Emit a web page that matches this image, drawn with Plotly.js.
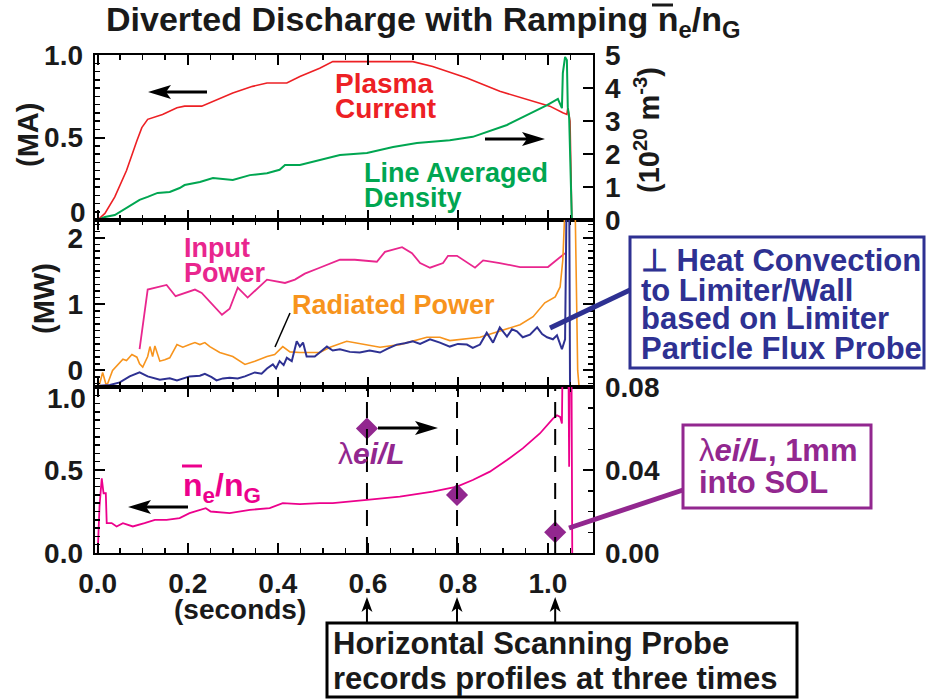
<!DOCTYPE html>
<html>
<head>
<meta charset="utf-8">
<script src="https://cdn.plot.ly/plotly-3.0.1.min.js"></script>
<style>html,body{margin:0;padding:0;background:#fff;}#chart{width:926px;height:700px;}</style>
</head>
<body>
<div id="chart"></div>
<script>
// ---------------- DATA ----------------
// Top panel: plasma current (MA) and line-averaged density (1e20 m^-3)
const ipTime = [0,0.016,0.038,0.064,0.087,0.098,0.111,0.144,0.176,0.193,0.231,0.264,0.300,0.344,0.376,0.420,0.449,0.493,0.522,0.598,0.700,0.744,0.820,0.893,0.967,1.004,1.033,1.042,1.044,1.049,1.053,1.100];
const ipMA   = [0,0.04,0.14,0.30,0.48,0.56,0.61,0.64,0.68,0.69,0.69,0.73,0.77,0.81,0.83,0.83,0.87,0.92,0.96,0.96,0.96,0.93,0.86,0.78,0.72,0.69,0.65,0.64,0.68,0.60,0.0,0.0];

const neTime = [0,0.016,0.038,0.064,0.093,0.111,0.133,0.160,0.182,0.193,0.227,0.256,0.300,0.338,0.376,0.404,0.416,0.449,0.493,0.538,0.598,0.656,0.709,0.782,0.833,0.864,0.909,0.953,0.998,1.022,1.031,1.033,1.038,1.042,1.044,1.047,1.053,1.100];
const neDens = [0,0.09,0.15,0.36,0.61,0.70,0.82,0.85,0.97,1.06,1.15,1.27,1.21,1.36,1.42,1.52,1.67,1.67,1.82,1.97,2.03,2.21,2.33,2.42,2.52,2.67,2.88,3.18,3.48,3.67,3.39,4.45,4.94,4.85,3.42,3.12,0.0,0.0];

// Middle panel (MW)
const pinTime = [0.093,0.111,0.153,0.173,0.216,0.231,0.276,0.293,0.311,0.333,0.376,0.416,0.438,0.460,0.493,0.538,0.571,0.620,0.638,0.676,0.698,0.716,0.738,0.767,0.778,0.798,0.838,0.856,0.893,0.938,1.000,1.038];
const pinMW   = [0.32,1.22,1.29,1.12,1.22,1.17,0.84,0.93,1.25,1.10,1.37,1.32,1.37,1.46,1.55,1.67,1.67,1.64,1.79,1.86,1.77,1.62,1.55,1.62,1.73,1.73,1.55,1.66,1.62,1.56,1.56,1.77];

const pradTime = [0.004,0.011,0.018,0.022,0.033,0.049,0.056,0.064,0.076,0.087,0.093,0.100,0.111,0.116,0.122,0.127,0.138,0.149,0.160,0.176,0.189,0.204,0.216,0.227,0.238,0.249,0.271,0.300,0.327,0.349,0.376,0.393,0.411,0.427,0.449,0.493,0.516,0.553,0.598,0.627,0.671,0.731,0.760,0.782,0.849,0.893,0.938,0.967,0.993,1.016,1.027,1.033,1.038,1.044,1.058,1.062,1.066,1.071];
const pradMW   = [-0.21,-0.03,-0.20,-0.20,0.00,0.13,0.17,0.15,0.24,0.20,0.10,0.05,0.21,0.36,0.21,0.37,0.14,0.16,0.19,0.39,0.35,0.39,0.42,0.39,0.42,0.36,0.27,0.21,0.09,0.14,0.21,0.24,0.36,0.28,0.27,0.27,0.35,0.44,0.39,0.35,0.39,0.50,0.50,0.45,0.50,0.59,0.69,0.81,1.02,1.11,1.26,1.67,2.60,3.50,3.50,2.00,0.00,-0.40];

const qconvTime = [0.004,0.027,0.049,0.071,0.093,0.111,0.138,0.160,0.176,0.189,0.204,0.227,0.238,0.253,0.264,0.278,0.293,0.311,0.327,0.349,0.364,0.376,0.389,0.396,0.404,0.413,0.420,0.431,0.442,0.449,0.456,0.464,0.482,0.493,0.509,0.522,0.538,0.560,0.582,0.604,0.627,0.644,0.664,0.682,0.700,0.716,0.738,0.760,0.782,0.800,0.820,0.833,0.849,0.864,0.878,0.893,0.909,0.920,0.931,0.944,0.960,0.976,0.987,0.998,1.011,1.020,1.031,1.038,1.042,1.047,1.049];
const qconvMW   = [-0.23,-0.22,-0.18,-0.09,-0.03,-0.09,-0.14,-0.12,-0.15,-0.12,-0.09,-0.08,-0.05,-0.10,-0.15,-0.12,-0.11,-0.12,-0.09,-0.03,-0.05,0.03,0.09,0.03,0.14,0.08,0.19,0.14,0.44,0.36,0.42,0.21,0.21,0.27,0.36,0.30,0.32,0.28,0.27,0.30,0.27,0.33,0.39,0.41,0.44,0.40,0.47,0.42,0.36,0.40,0.39,0.34,0.39,0.57,0.42,0.65,0.51,0.62,0.59,0.50,0.54,0.65,0.55,0.50,0.47,0.53,0.32,0.47,3.00,3.00,-0.30];

// Bottom panel: Greenwald fraction and lambda_ei/L
const fgTime = [0,0.004,0.009,0.013,0.018,0.020,0.031,0.042,0.056,0.078,0.104,0.127,0.153,0.182,0.204,0.240,0.251,0.293,0.338,0.382,0.411,0.449,0.493,0.522,0.598,0.671,0.744,0.798,0.833,0.871,0.909,0.944,0.982,1.011,1.020,1.027,1.031,1.033,1.045,1.047,1.049,1.052,1.054];
const fgVal  = [0,0.28,0.45,0.36,0.36,0.18,0.18,0.16,0.18,0.16,0.18,0.20,0.20,0.21,0.24,0.27,0.25,0.24,0.26,0.27,0.30,0.295,0.30,0.30,0.32,0.34,0.37,0.40,0.44,0.49,0.56,0.63,0.72,0.81,0.83,0.82,0.78,1.30,1.30,0.52,1.30,1.30,-0.05];

const probeTimes = [0.598, 0.798, 1.016];
const lambdaEiL  = [0.060, 0.028, 0.010];

const xTickVals = [0, 0.2, 0.4, 0.6, 0.8, 1.0];
const xTickText = ['0.0','0.2','0.4','0.6','0.8','1.0'];

// ---------------- STYLE ----------------
const FONT = 'Liberation Sans, Arial, Helvetica, sans-serif';
const INK = '#1a1a1a';
const C = {red:'#ED2024', green:'#00A651', pin:'#E9268E', orange:'#F7941D', navy:'#2E3192', pink:'#EC008C', purple:'#92278F'};
const L = 95, R = 593, T = 55, B = 553;
const W = R - L, H = B - T;
const P = (x, y) => ({x: (x - L) / W, y: (B - y) / H});

const TICKFONT = {family: FONT, size: 28, color: INK, weight: 'bold'};
const axBase = {
  showline: true, linecolor: '#000', linewidth: 2.4, ticks: 'inside', ticklen: 10, tickwidth: 2,
  tickcolor: '#000', zeroline: false, showgrid: false, fixedrange: true, tickfont: TICKFONT
};
const minorTicks = d => ({dtick: d, tick0: 0, ticks: 'inside', ticklen: 5, tickwidth: 1.5, tickcolor: '#000'});
const xCommon = Object.assign({}, axBase, {
  range: [-0.006, 1.1], tickvals: xTickVals, ticktext: xTickText, mirror: 'ticks', minor: minorTicks(0.05)
});

const traces = [
  {x: ipTime, y: ipMA, xaxis: 'x', yaxis: 'y', mode: 'lines', line: {color: C.red, width: 1.6}},
  {x: neTime, y: neDens, xaxis: 'x', yaxis: 'y4', mode: 'lines', line: {color: C.green, width: 2}},
  {x: pinTime, y: pinMW, xaxis: 'x2', yaxis: 'y2', mode: 'lines', line: {color: C.pin, width: 1.8}},
  {x: pradTime, y: pradMW, xaxis: 'x2', yaxis: 'y2', mode: 'lines', line: {color: C.orange, width: 1.6}},
  {x: qconvTime, y: qconvMW, xaxis: 'x2', yaxis: 'y2', mode: 'lines', line: {color: C.navy, width: 2}},
  {x: fgTime, y: fgVal, xaxis: 'x3', yaxis: 'y3', mode: 'lines', line: {color: C.pink, width: 1.8}},
  {x: probeTimes, y: lambdaEiL, xaxis: 'x3', yaxis: 'y5', mode: 'markers', cliponaxis: false,
   marker: {symbol: 'diamond', size: 17, color: C.purple}}
];

function txt(text, px, py, color, size, extra) {
  const p = P(px, py);
  return Object.assign({xref: 'paper', yref: 'paper', x: p.x, y: p.y, text: text, showarrow: false,
    xanchor: 'left', yanchor: 'middle', font: {family: FONT, size: size, color: color, weight: 'bold'}}, extra || {});
}
function seg(x0, y0, x1, y1, color, width, dash) {
  const a = P(x0, y0), b = P(x1, y1);
  return {type: 'line', xref: 'paper', yref: 'paper', x0: a.x, y0: a.y, x1: b.x, y1: b.y,
    line: {color: color, width: width, dash: dash || 'solid'}};
}
function box(x0, y0, x1, y1, color, width) {
  const a = P(x0, y0), b = P(x1, y1);
  return {type: 'rect', xref: 'paper', yref: 'paper', x0: a.x, y0: a.y, x1: b.x, y1: b.y,
    line: {color: color, width: width}, fillcolor: 'rgba(0,0,0,0)'};
}
// Arrow drawn as two pixel-sized shapes anchored at the head point.
// (dx, dy) = unit direction from head towards tail (screen pixels, y down); len = total length.
function arrowShapes(xref, xa, ya, dx, dy, len, hl, hw, notch, lw) {
  const ux = dx, uy = -dy;              // pixel sizemode has y pointing up
  const nx = -uy, ny = ux;
  const pt = (a, b) => (a * ux + b * nx).toFixed(2) + ',' + (a * uy + b * ny).toFixed(2);
  const common = {xref: xref, yref: 'paper', xsizemode: 'pixel', ysizemode: 'pixel', xanchor: xa, yanchor: ya};
  return [
    Object.assign({type: 'line', x0: (hl - notch) * ux, y0: (hl - notch) * uy, x1: len * ux, y1: len * uy,
      line: {color: '#000', width: lw}}, common),
    Object.assign({type: 'path', path: 'M' + pt(0, 0) + 'L' + pt(hl, hw) + 'L' + pt(hl - notch, 0) + 'L' + pt(hl, -hw) + 'Z',
      fillcolor: '#000', line: {width: 0}}, common)
  ];
}
function hArrow(hx, hy, tx) {
  const p = P(hx, hy);
  const d = tx > hx ? 1 : -1;
  return arrowShapes('paper', p.x, p.y, d, 0, Math.abs(tx - hx), 23, 7, 5, 3.2);
}

const annotations = [
  txt('Diverted Discharge with Ramping n<sub>e</sub>/n<sub>G</sub>', 423, 21, INK, 34, {xanchor: 'center'}),
  // tick labels that sit off their tick in the reference
  txt('0', 88, 212, INK, 28, {xanchor: 'right'}),
  txt('1.0', 88, 399, INK, 28, {xanchor: 'right'}),
  // axis titles
  txt('(MA)', 28, 135, INK, 29, {xanchor: 'center', textangle: -90}),
  txt('(MW)', 44, 299, INK, 29, {xanchor: 'center', textangle: -90}),
  txt('(10<sup>20</sup> m<sup>-3</sup>)', 647, 130, INK, 29, {xanchor: 'center', textangle: -90}),
  txt('(seconds)', 240, 609, INK, 28, {xanchor: 'center'}),
  // series labels
  txt('Plasma', 333, 83, C.red, 28),
  txt('Current', 333, 108, C.red, 28),
  txt('Line Averaged', 362, 173, C.green, 27),
  txt('Density', 362, 198, C.green, 27),
  txt('Input', 182, 248, C.pin, 27),
  txt('Power', 182, 273, C.pin, 27),
  txt('Radiated Power', 290, 305, C.orange, 27),
  txt('\u22A5 Heat Convection', 639, 260, C.navy, 31),
  txt('to Limiter/Wall', 639, 290, C.navy, 31),
  txt('based on Limiter', 639, 319, C.navy, 31),
  txt('Particle Flux Probe', 639, 348, C.navy, 31),
  txt('<span style="font-weight:normal">\u03BB</span><i>ei/L</i>', 336, 453, C.purple, 30),
  txt('n<sub>e</sub>/n<sub>G</sub>', 181, 488, C.pink, 32),
  txt('<span style="font-weight:normal">\u03BB</span><i>ei/L</i>, 1mm', 697, 450, C.purple, 31),
  txt('into SOL', 697, 482, C.purple, 31),
  txt('Horizontal Scanning Probe', 331, 643, INK, 31),
  txt('records profiles at three times', 331, 678, INK, 31)
];

let shapes = [
  box(630, 237, 924, 368, C.navy, 3),
  seg(550, 328, 630, 290, C.navy, 5),
  box(683, 425, 871, 508, C.purple, 3),
  seg(569, 528, 683, 490, C.purple, 5),
  seg(275, 347, 290, 313, '#000', 1.5),
  box(327, 623, 797, 697, '#000', 3),
  seg(182, 466, 202, 466, C.pink, 3),
  seg(652, 5, 673, 5, INK, 3)
];
shapes = shapes.concat(hArrow(148, 92, 207), hArrow(545, 139, 485), hArrow(128, 507, 188), hArrow(438, 428, 378));
probeTimes.forEach(t => {
  shapes.push({type: 'line', xref: 'x3', yref: 'y3', x0: t, x1: t, y0: 0, y1: 1,
    line: {color: '#000', width: 2, dash: '16px,11px'}});
  shapes = shapes.concat(arrowShapes('x3', t, P(0, 597).y, 0, 1, 26, 15, 5.5, 4, 2));
});

const layout = {
  width: 926, height: 700, showlegend: false,
  paper_bgcolor: '#fff', plot_bgcolor: 'rgba(0,0,0,0)',
  margin: {l: L, r: 926 - R, t: T, b: 700 - B, pad: 0},
  font: {family: FONT, color: INK},
  xaxis: Object.assign({}, xCommon, {anchor: 'y', showticklabels: false}),
  xaxis2: Object.assign({}, xCommon, {anchor: 'y2', matches: 'x', showticklabels: false}),
  xaxis3: Object.assign({}, xCommon, {anchor: 'y3', matches: 'x', ticklabelstandoff: 4}),
  yaxis: Object.assign({}, axBase, {domain: [0.66867, 1], range: [0, 1], anchor: 'x',
    tickvals: [0.5, 1], ticktext: ['0.5', '1.0'], ticklabelstandoff: 4, minor: minorTicks(0.05)}),
  yaxis4: Object.assign({}, axBase, {overlaying: 'y', side: 'right', anchor: 'x', range: [0, 5],
    tickvals: [0, 1, 2, 3, 4, 5], ticktext: ['0', '1', '2', '3', '4', '5'], ticklabelstandoff: 4}),
  yaxis2: Object.assign({}, axBase, {domain: [0.33333, 0.66867], range: [-0.25, 2.27], anchor: 'x2', mirror: 'ticks',
    tickvals: [0, 1, 2], ticktext: ['0', '1', '2'], ticklabelstandoff: 4, minor: minorTicks(0.1)}),
  yaxis3: Object.assign({}, axBase, {domain: [0, 0.33333], range: [0, 1], anchor: 'x3',
    tickvals: [0, 0.5], ticktext: ['0.0', '0.5'], ticklabelstandoff: 4, minor: minorTicks(0.05)}),
  yaxis5: Object.assign({}, axBase, {overlaying: 'y3', side: 'right', anchor: 'x3', range: [0, 0.08],
    tickvals: [0, 0.04, 0.08], ticktext: ['0.00', '0.04', '0.08'], ticklabelstandoff: 4, minor: minorTicks(0.01)}),
  annotations: annotations,
  shapes: shapes
};

Plotly.newPlot('chart', traces, layout, {staticPlot: true, displayModeBar: false});
</script>
</body>
</html>
